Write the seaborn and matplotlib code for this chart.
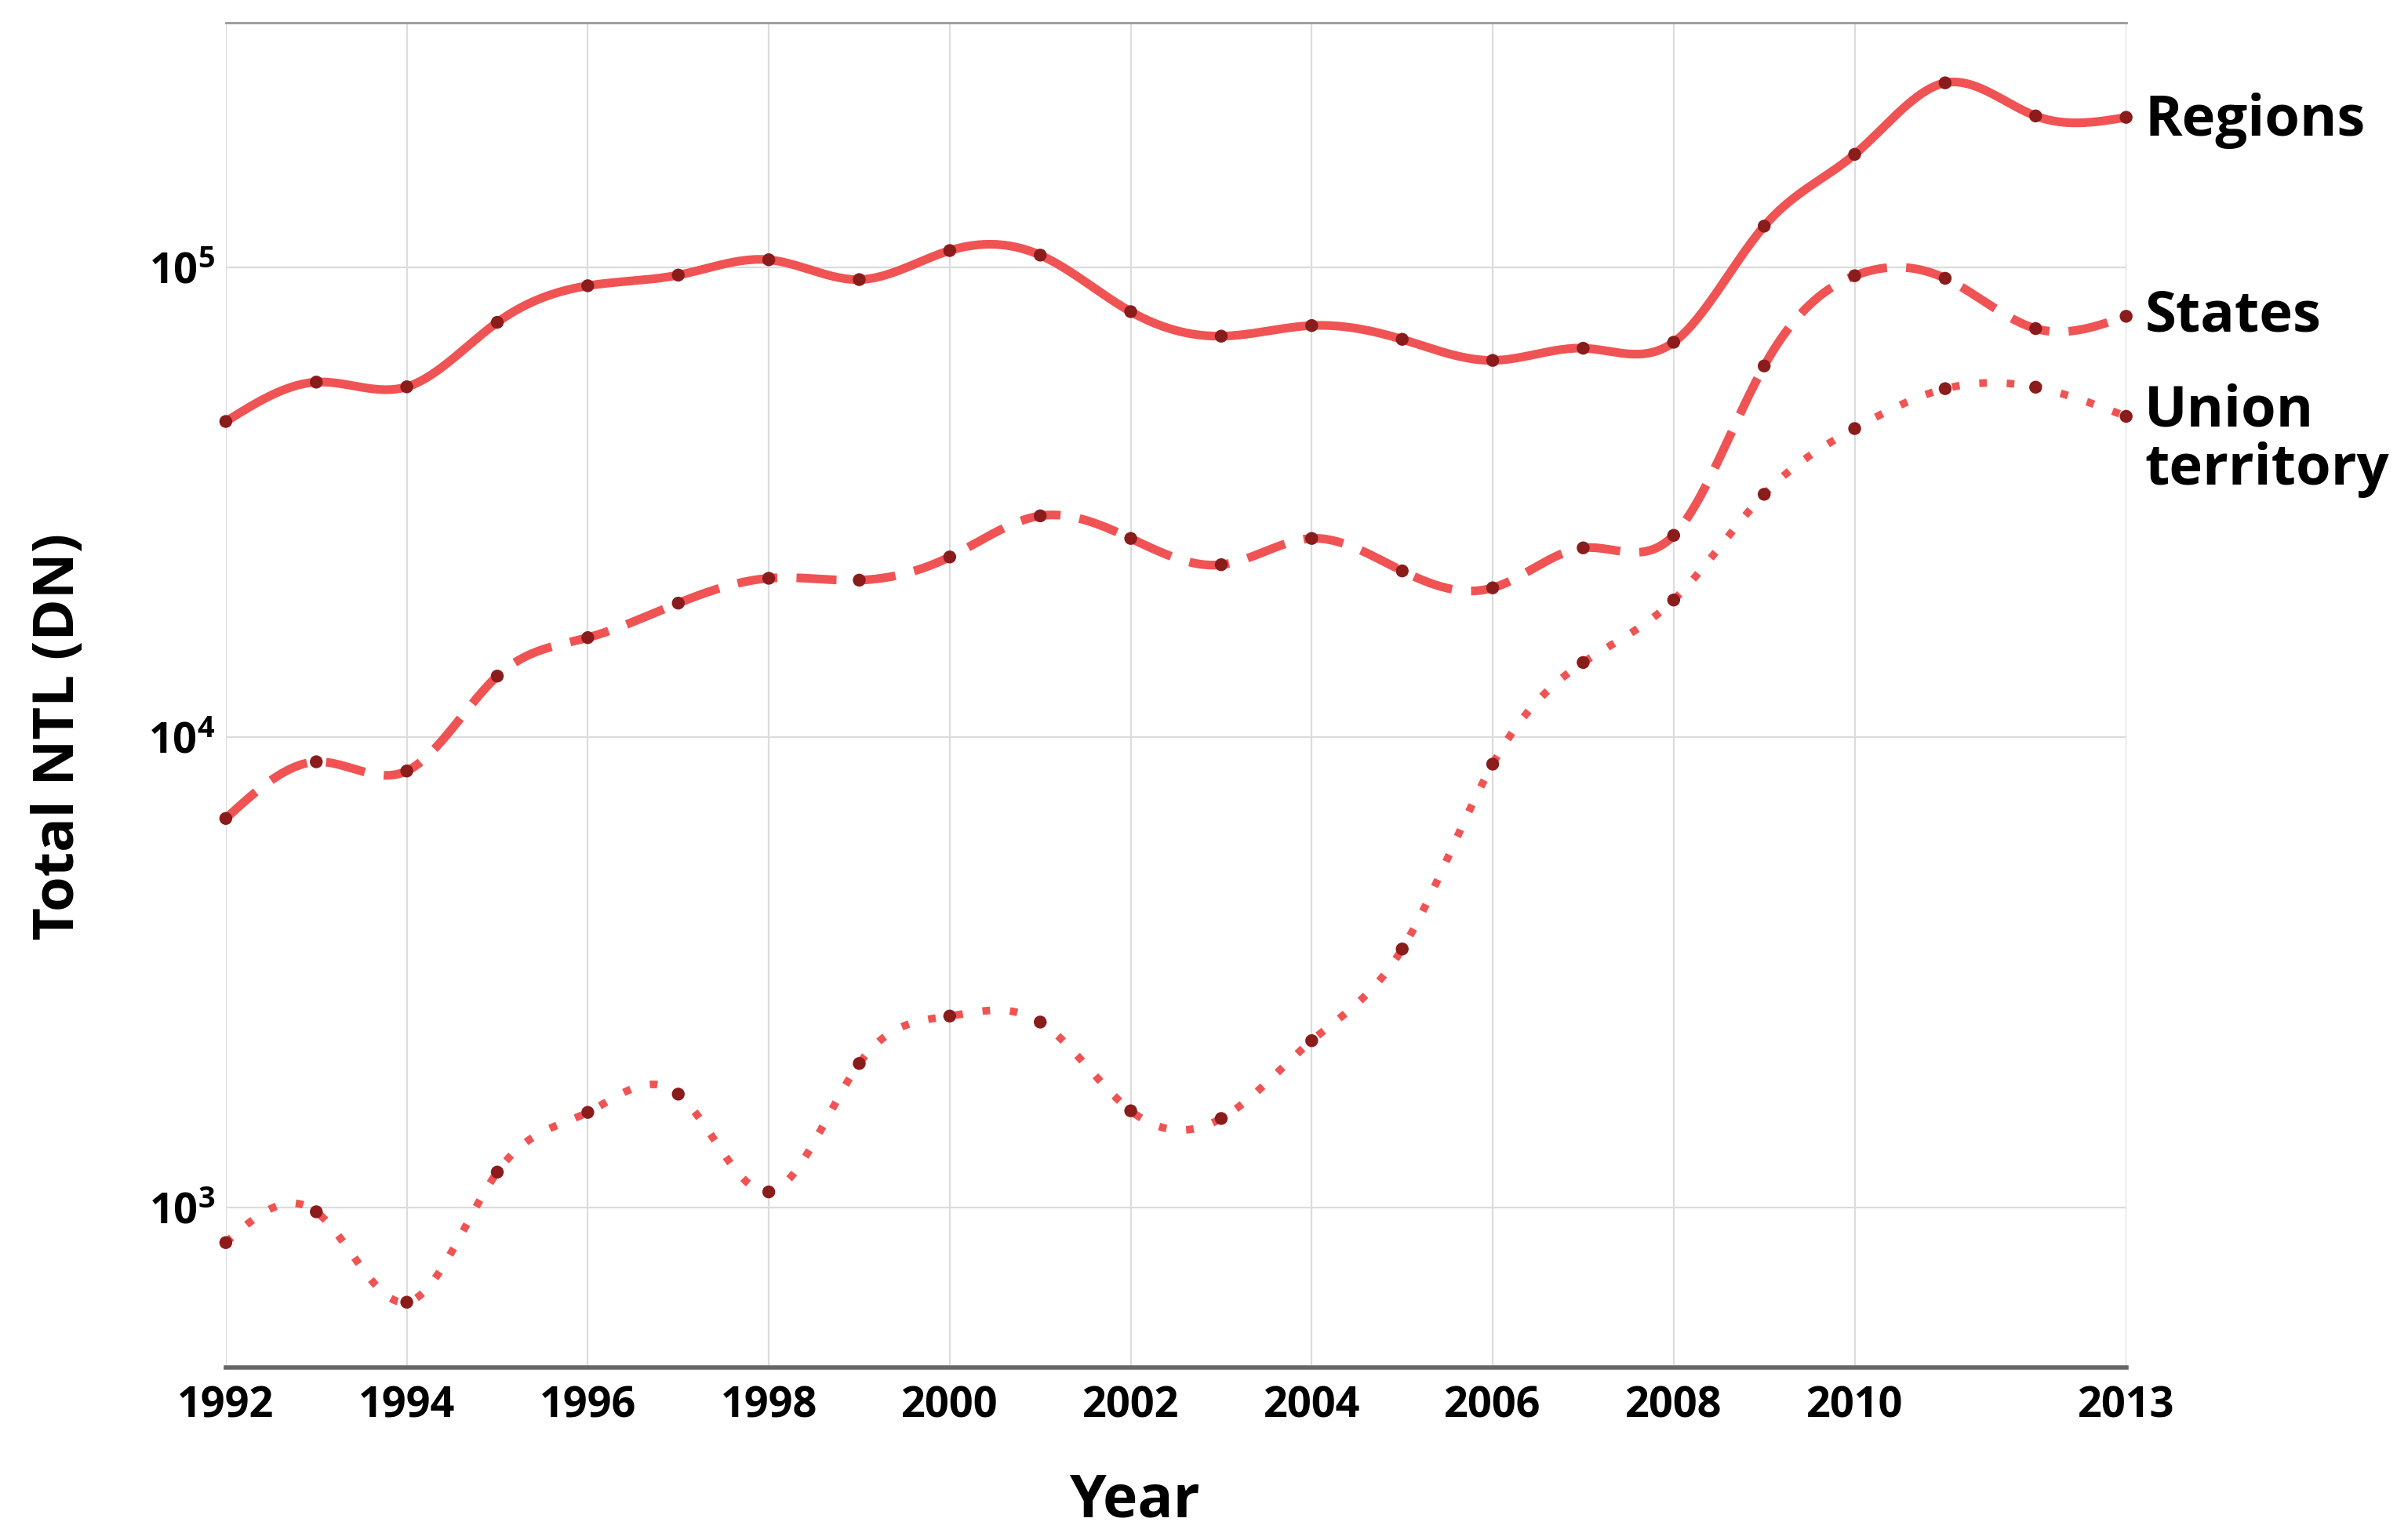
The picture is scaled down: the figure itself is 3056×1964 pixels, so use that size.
import numpy as np
import pandas as pd
import seaborn as sns
import matplotlib
matplotlib.use("Agg")
import matplotlib.pyplot as plt
from matplotlib.ticker import LogLocator, LogFormatterMathtext, NullLocator

### data (total NTL, DN)
years = list(range(1992, 2014))
regions = [47000, 57000, 55700, 76400, 91400, 96300, 103800, 94200, 108600, 106200, 80500,
           71400, 75200, 70300, 63400, 67300, 69300, 122400, 174000, 247000, 210000, 208600]
states = [6720, 8870, 8480, 13500, 16300, 19300, 21800, 21600, 24200, 29600, 26500,
          23300, 26500, 22600, 20800, 25300, 26900, 61700, 96000, 94800, 74100, 78700]
union_territory = [841, 978, 628, 1188, 1592, 1741, 1078, 2023, 2552, 2478, 1604,
                   1545, 2262, 3545, 8770, 14430, 19600, 32900, 45400, 55200, 55600, 48200]
series_names = ["Regions", "States", "Union\nterritory"]
x_ticks = list(range(1992, 2011, 2)) + [2013]

line_col = "#f04a4a"
dot_col = "#8b1c1c"

sns.set_theme(style="whitegrid")
plt.rcParams["font.family"] = ["Open Sans", "DejaVu Sans"]
plt.rcParams["mathtext.fontset"] = "custom"
plt.rcParams["mathtext.rm"] = "Open Sans:bold"
plt.rcParams["mathtext.bf"] = "Open Sans:bold"
plt.rcParams["mathtext.it"] = "Open Sans:bold"
plt.rcParams["text.color"] = "black"
plt.rcParams["axes.labelcolor"] = "black"
plt.rcParams["xtick.labelcolor"] = "black"
plt.rcParams["ytick.labelcolor"] = "black"


### natural cubic spline in log space, just for the smooth drawing of the line
def smooth(x, y, n=600):
    x = np.asarray(x, float)
    y = np.log10(np.asarray(y, float))
    k = len(x)
    h = np.diff(x)
    A = np.zeros((k, k))
    b = np.zeros(k)
    A[0, 0] = A[-1, -1] = 1
    for i in range(1, k - 1):
        A[i, i - 1] = h[i - 1]
        A[i, i] = 2 * (h[i - 1] + h[i])
        A[i, i + 1] = h[i]
        b[i] = 6 * ((y[i + 1] - y[i]) / h[i] - (y[i] - y[i - 1]) / h[i - 1])
    M = np.linalg.solve(A, b)
    xs = np.linspace(x[0], x[-1], n)
    j = np.clip(np.searchsorted(x, xs) - 1, 0, k - 2)
    t0 = x[j + 1] - xs
    t1 = xs - x[j]
    hj = h[j]
    ys = (M[j] * t0 ** 3 + M[j + 1] * t1 ** 3) / (6 * hj) \
        + (y[j] / hj - M[j] * hj / 6) * t0 + (y[j + 1] / hj - M[j + 1] * hj / 6) * t1
    return xs, 10 ** ys


fig, ax = plt.subplots(figsize=(30.56, 19.64), dpi=100)
fig.subplots_adjust(left=0.0942, right=0.887, top=0.985, bottom=0.112)

styles = ["-", (0, (4.6, 2.2)), (0, (1.0, 2.6))]
widths = [8, 8, 7]
offsets = [-3, 0, -22]
for vals, name, ls, lw, off in zip([regions, states, union_territory], series_names, styles, widths, offsets):
    xs, ys = smooth(years, vals)
    sns.lineplot(x=xs, y=ys, ax=ax, color=line_col, lw=lw, linestyle=ls, alpha=0.95)
    sns.scatterplot(x=years, y=vals, ax=ax, color=dot_col, s=140, edgecolor="none", zorder=5, clip_on=False)
    ax.annotate(name, xy=(years[-1], vals[-1]), xytext=(17, off), textcoords="offset points",
                ha="left", va="center", fontsize=52, fontweight="bold", color="black",
                linespacing=1.05, annotation_clip=False)

ax.set_yscale("log")
ax.set_xlim(1992, 2013)
ax.set_ylim(456, 331000)
ax.set_xticks(x_ticks)
ax.set_xticklabels([str(t) for t in x_ticks])
ax.yaxis.set_major_locator(LogLocator(base=10))
ax.yaxis.set_major_formatter(LogFormatterMathtext())
ax.yaxis.set_minor_locator(NullLocator())

ax.grid(True, color="#dcdcdc", lw=1.6)
ax.tick_params(axis="both", labelsize=39, length=6, width=1.5, color="#555555",
               labelcolor="black", pad=10)
ax.tick_params(axis="y", pad=4)
for lab in ax.get_xticklabels() + ax.get_yticklabels():
    lab.set_fontweight("bold")

for side in ["left", "right"]:
    ax.spines[side].set_visible(False)
ax.spines["top"].set_color("#999999")
ax.spines["top"].set_linewidth(2)
ax.spines["bottom"].set_color("#666666")
ax.spines["bottom"].set_linewidth(4)

ax.set_xlabel("Year", fontsize=54, fontweight="bold", color="black")
ax.set_ylabel("Total NTL (DN)", fontsize=52, fontweight="bold", color="black")
ax.xaxis.set_label_coords(0.478, -0.078)
ax.yaxis.set_label_coords(-0.073, 0.469)

plt.savefig("out.png", dpi=100)
